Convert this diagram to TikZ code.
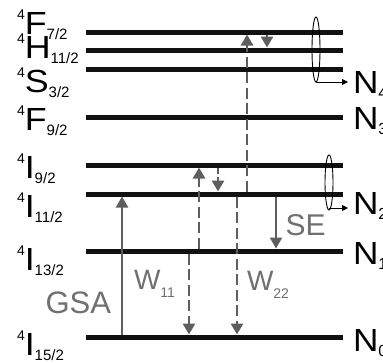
\documentclass[tikz,border=0pt]{standalone}
\usepackage{fontspec}
\setmainfont{Liberation Sans}
\usetikzlibrary{arrows.meta}
\definecolor{arrgray}{HTML}{5E5E5E}
\definecolor{txtgray}{HTML}{707070}
\definecolor{lvlblack}{HTML}{111111}
\newcommand{\lvlabel}[2]{\smash{\raisebox{15pt}{\fontsize{14}{14}\selectfont 4}}\scalebox{1.12}[1]{\fontsize{32}{32}\selectfont #1}\smash{\raisebox{-5pt}{\fontsize{15}{15}\selectfont #2}}}
\newcommand{\nlabel}[1]{\scalebox{1.1}[1]{\fontsize{32}{32}\selectfont N}\smash{\raisebox{-5pt}{\fontsize{16}{16}\selectfont #1}}}
\newcommand{\wlabel}[1]{{\fontsize{28}{28}\selectfont W}\smash{\raisebox{-8pt}{\fontsize{14}{14}\selectfont #1}}}
\begin{document}
\begin{tikzpicture}[x=1pt,y=-1pt,
  levelline/.style={line width=5pt, draw=lvlblack},
  lbl/.style={anchor=base west, inner sep=0pt, outer sep=0pt},
  arrbase/.style={draw=arrgray, line width=2.8pt, shorten >=2.5pt, shorten <=2.5pt,
    -{Triangle[length=11pt,width=12pt]}},
  solidarr/.style={arrbase, line width=2.2pt},
  dasharr/.style={arrbase, dash pattern=on 11pt off 4.5pt},
  dotarr/.style={arrbase, dash pattern=on 6pt off 3pt},
  ell/.style={draw=black, line width=0.9pt},
  outarr/.style={draw=black, line width=0.9pt, -{Triangle[length=6pt,width=6pt]}},
  gtext/.style={lbl, text=txtgray}
]
\useasboundingbox (0,0) rectangle (383,362);
\clip (0,0) rectangle (383,362);

% energy levels
\draw[levelline] (86,32) -- (343,32);
\draw[levelline] (86,50) -- (343,50);
\draw[levelline] (86,69) -- (343,69);
\draw[levelline] (86,117) -- (343,117);
\draw[levelline] (86,165) -- (343,165);
\draw[levelline] (86,194) -- (343,194);
\draw[levelline] (86,251) -- (343,251);
\draw[levelline] (86,337) -- (343,337);

% level labels
\node[lbl] (lF72) at (17,34) {\lvlabel{F}{7/2}};
\node[lbl] (lH112) at (17,58) {\lvlabel{H}{11/2}};
\node[lbl] (lS32) at (17,92) {\lvlabel{S}{3/2}};
\node[lbl] (lF92) at (17,130) {\lvlabel{F}{9/2}};
\node[lbl] (lI92) at (17,178) {\lvlabel{I}{9/2}};
\node[lbl] (lI112) at (17,217) {\lvlabel{I}{11/2}};
\node[lbl] (lI132) at (17,270) {\lvlabel{I}{13/2}};
\node[lbl] (lI152) at (17,355) {\lvlabel{I}{15/2}};

% population labels
\node[lbl] (N4) at (353,93) {\nlabel{4}};
\node[lbl] (N3) at (353,129) {\nlabel{3}};
\node[lbl] (N2) at (353,214) {\nlabel{2}};
\node[lbl] (N1) at (353,264) {\nlabel{1}};
\node[lbl] (N0) at (353,351) {\nlabel{0}};

% process labels
\node[gtext] (gsa) at (45.5,313) {\fontsize{31}{31}\selectfont GSA};
\node[gtext] (se) at (285.5,235) {\fontsize{30}{30}\selectfont SE};
\node[gtext] (w11) at (134,289) {\wlabel{11}};
\node[gtext] (w22) at (247,290) {\wlabel{22}};

% arrow end points
\coordinate (gsaA) at (122,337); \coordinate (gsaB) at (122,194);
\coordinate (w11uA) at (199,251); \coordinate (w11uB) at (199,165);
\coordinate (w11dA) at (189,251); \coordinate (w11dB) at (189,337);
\coordinate (r1A) at (218,165); \coordinate (r1B) at (218,194);
\coordinate (w22uA) at (247,194); \coordinate (w22uB) at (247,32);
\coordinate (w22dA) at (237,194); \coordinate (w22dB) at (237,337);
\coordinate (r2A) at (267,32); \coordinate (r2B) at (267,50);
\coordinate (seA) at (276,194); \coordinate (seB) at (276,251);

\draw[solidarr] (gsaA) -- (gsaB);
\draw[dasharr] (w11uA) -- (w11uB);
\draw[dasharr] (w11dA) -- (w11dB);
\draw[dotarr] (r1A) -- (r1B);
\draw[dasharr] (w22uA) -- (w22uB);
\draw[dasharr] (w22dA) -- (w22dB);
\draw[dotarr] (r2A) -- (r2B);
\draw[solidarr] (seA) -- (seB);

% ellipses grouping levels
\draw[ell] (316,49.5) ellipse (4pt and 32.5pt);
\draw[ell] (329,182.5) ellipse (4pt and 27.5pt);
\coordinate (e1b) at (316,82); \coordinate (e1r) at (348,82);
\coordinate (e2b) at (329,208); \coordinate (e2r) at (348,208);
\draw[outarr] (e1b) -- (e1r);
\draw[outarr] (e2b) -- (e2r);
\end{tikzpicture}
\end{document}
